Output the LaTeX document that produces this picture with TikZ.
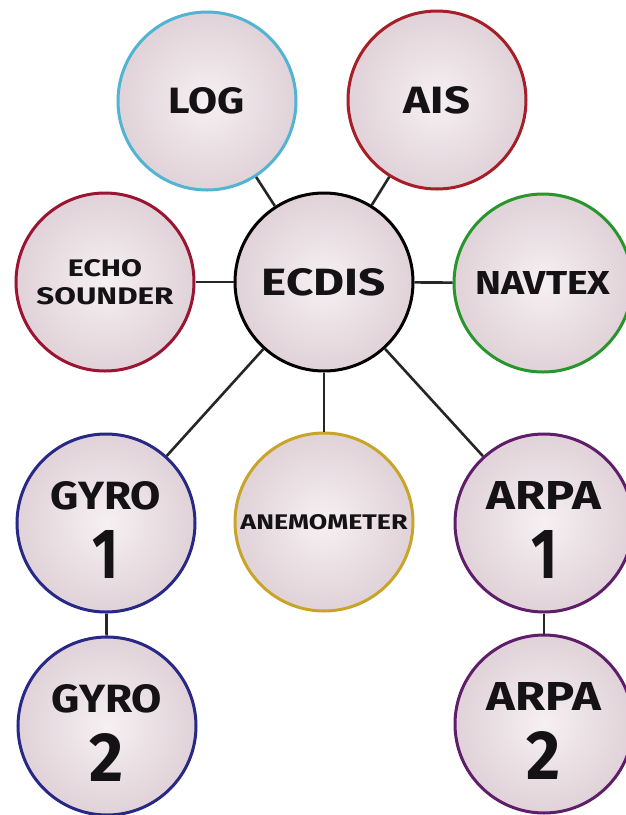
\documentclass[tikz,border=0pt]{standalone}
\usepackage{fontspec}
\setmainfont{Fira Sans}
\usepackage{graphicx}
\definecolor{logc}{RGB}{80,180,210}
\definecolor{aisc}{RGB}{165,30,40}
\definecolor{echoc}{RGB}{155,20,50}
\definecolor{navc}{RGB}{40,150,45}
\definecolor{gyroc}{RGB}{40,40,135}
\definecolor{anec}{RGB}{200,165,40}
\definecolor{arpac}{RGB}{95,30,105}
\definecolor{fillin}{RGB}{246,240,242}
\definecolor{fillout}{RGB}{224,210,216}
\definecolor{txt}{RGB}{20,18,20}
\newcommand{\lbl}[3]{\resizebox{#1pt}{#2pt}{\bfseries #3}}
\newcommand{\twolbl}[3]{\rule{0pt}{42pt}\lbl{#1}{28}{#2}\\[20pt]\lbl{#3}{48}{\ifx1#21\fi}}
\tikzset{
  bubble/.style={circle, draw=#1, line width=3pt, minimum size=178pt, inner sep=0pt,
    inner color=fillin, outer color=fillout, text=txt, align=center},
  link/.style={draw=black!85, line width=2.6pt}
}
\begin{document}
\begin{tikzpicture}[x=1pt,y=-1pt]
\useasboundingbox (0,0) rectangle (625,815);
\fill[white] (0,0) rectangle (625,815);
\node[bubble=logc] (log) at (207,101) {\lbl{76}{26}{LOG}};
\node[bubble=aisc] (ais) at (437,100) {\lbl{66}{27}{AIS}};
\node[bubble=black] (ecdis) at (324,282) {\lbl{124}{27}{ECDIS}};
\node[bubble=echoc] (echo) at (105,282) {\lbl{74}{17}{ECHO}\\[9pt]\lbl{137}{17}{SOUNDER}};
\node[bubble=navc] (navtex) at (543,283) {\lbl{135}{23}{NAVTEX}};
\node[bubble=gyroc] (gyro1) at (106,523) {\rule{0pt}{42pt}\lbl{110}{28}{GYRO}\\[20pt]\lbl{26}{48}{1}};
\node[bubble=anec] (anemo) at (324,522) {\lbl{167}{15}{ANEMOMETER}};
\node[bubble=arpac] (arpa1) at (544,523) {\rule{0pt}{42pt}\lbl{114}{28}{ARPA}\\[20pt]\lbl{26}{48}{1}};
\node[bubble=gyroc] (gyro2) at (107,726) {\rule{0pt}{42pt}\lbl{110}{28}{GYRO}\\[20pt]\lbl{34}{48}{2}};
\node[bubble=arpac] (arpa2) at (544,724) {\rule{0pt}{42pt}\lbl{114}{28}{ARPA}\\[20pt]\lbl{34}{48}{2}};
\path[link] (ecdis) -- (log);
\path[link] (ecdis) -- (ais);
\path[link] (ecdis) -- (echo);
\path[link] (ecdis) -- (navtex);
\path[link] (ecdis) -- (gyro1);
\path[link] (ecdis) -- (anemo);
\path[link] (ecdis) -- (arpa1);
\path[link] (gyro1) -- (gyro2);
\path[link] (arpa1) -- (arpa2);
\end{tikzpicture}
\end{document}
